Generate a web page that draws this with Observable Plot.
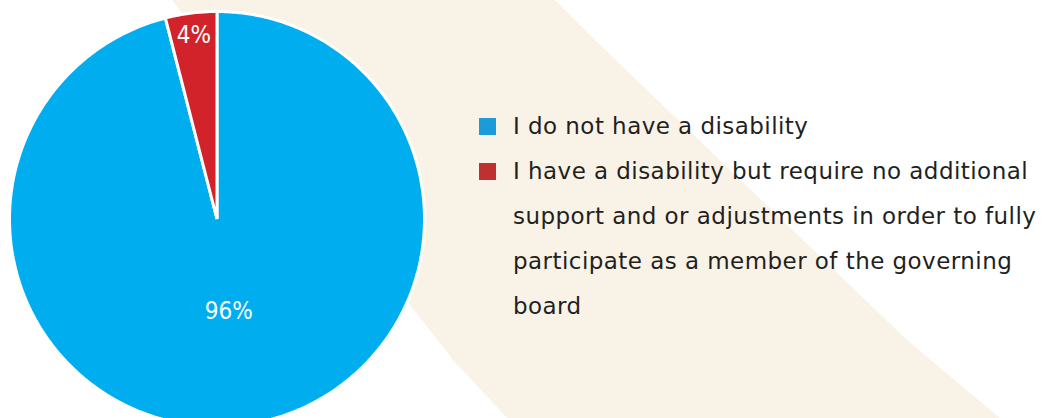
<!DOCTYPE html>
<html><head><meta charset="utf-8">
<script src="https://cdn.jsdelivr.net/npm/d3@7"></script>
<script src="https://cdn.jsdelivr.net/npm/@observablehq/plot@0.6"></script>
<style>
html,body{margin:0;padding:0;background:#fff;}
#wrap{position:relative;width:1046px;height:418px;overflow:hidden;font-family:"DejaVu Sans",sans-serif;}
#band{position:absolute;left:0;top:0;width:1046px;height:418px;background:#f9f3e7;
  clip-path:polygon(172px 0,555px 0,595px 40px,907px 340px,1000px 418px,507px 418px,453px 360px);}
#chart{position:absolute;left:0;top:0;}
#legend{position:absolute;left:479px;top:104px;color:#231f20;font-size:23px;line-height:45px;letter-spacing:0.45px;}
.item{display:flex;align-items:flex-start;}
.sw{width:17px;height:17px;margin-top:14px;flex:none;}
.tx{margin-left:17px;width:540px;}
</style></head><body>
<div id="wrap"><div id="band"></div><div id="chart"></div><div id="legend"></div></div>
<script>
const categories = [
  "I do not have a disability",
  "I have a disability but require no additional support and or adjustments in order to fully participate as a member of the governing board"
];
const values = [96, 4];
const valueLabels = ["96%", "4%"];
const sliceColors = ["#00aeef", "#d2232a"];
const legendColors = ["#1b9bd7", "#be3130"];

const rows = categories.map((c, i) => ({key: c, value: values[i], label: valueLabels[i]}));
const arcs = d3.pie().sort(null).value(d => d.value)(rows);

// polygon points for each slice, in unit-circle data space
const pts = [];
arcs.forEach(a => {
  const n = Math.max(4, Math.ceil((a.endAngle - a.startAngle) / (2 * Math.PI) * 720));
  pts.push({key: a.data.key, x: 0, y: 0});
  for (let i = 0; i <= n; i++) {
    const t = a.startAngle + (a.endAngle - a.startAngle) * i / n;
    pts.push({key: a.data.key, x: Math.sin(t), y: Math.cos(t)});
  }
});
const labelRadius = [0.45, 0.89];
const lab = arcs.map((a, i) => {
  const m = (a.startAngle + a.endAngle) / 2;
  return {x: labelRadius[i] * Math.sin(m), y: labelRadius[i] * Math.cos(m), text: a.data.label};
});

const chart = Plot.plot({
  width: 1046, height: 418,
  style: {background: "transparent"},
  x: {domain: [-1, 1], range: [9, 424], axis: null},
  y: {domain: [-1, 1], range: [426, 11], axis: null},
  color: {domain: categories, range: sliceColors},
  marks: [
    Plot.line(pts, {x: "x", y: "y", z: "key", fill: "key", stroke: "white", strokeWidth: 3, curve: "linear-closed", strokeLinejoin: "miter"}),
    Plot.text(lab, {x: "x", y: "y", text: "text", fill: "white", fontSize: 24, fontFamily: "'DejaVu Sans Condensed','DejaVu Sans',sans-serif"})
  ]
});
document.getElementById("chart").appendChild(chart);

const lg = d3.select("#legend");
categories.forEach((c, i) => {
  const it = lg.append("div").attr("class", "item");
  it.append("div").attr("class", "sw").style("background", legendColors[i]);
  it.append("div").attr("class", "tx").text(c);
});
</script>
</body></html>
